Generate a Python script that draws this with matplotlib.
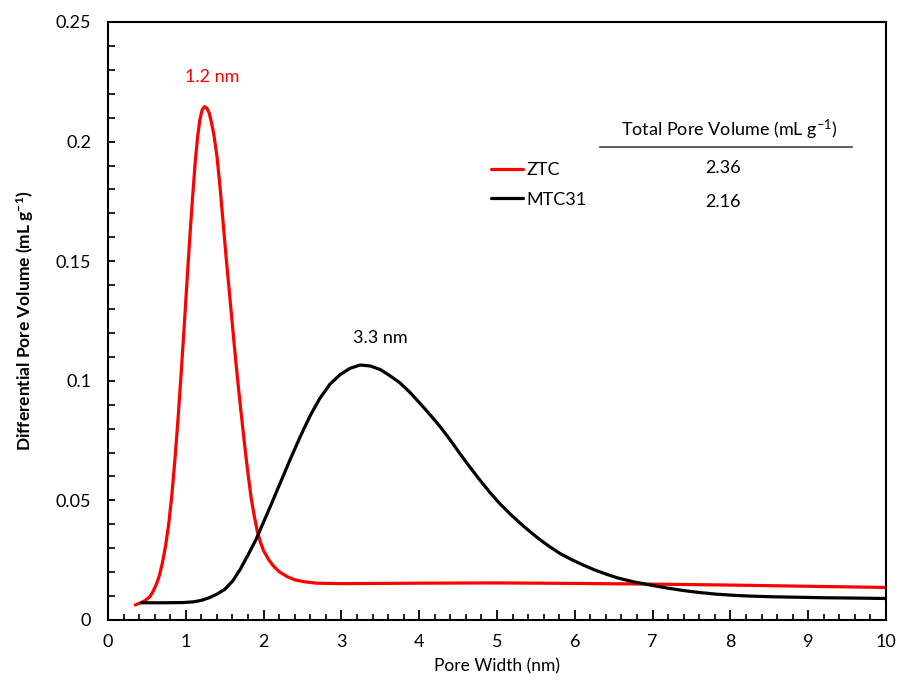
import matplotlib
matplotlib.use("Agg")
import matplotlib.pyplot as plt
from matplotlib.ticker import MultipleLocator
from matplotlib.lines import Line2D

plt.rcParams['font.family'] = ['Lato', 'DejaVu Sans']
plt.rcParams['mathtext.fontset'] = 'custom'
plt.rcParams['mathtext.rm'] = 'Lato'
plt.rcParams['mathtext.it'] = 'Lato:italic'
plt.rcParams['mathtext.bf'] = 'Lato:bold'

# ---- data ----
ztc_x = [0.35, 0.42, 0.48, 0.54, 0.58, 0.62, 0.66, 0.70, 0.74, 0.78, 0.82, 0.86,
         0.90, 0.94, 0.98, 1.02, 1.06, 1.09, 1.12, 1.15, 1.18, 1.21, 1.24, 1.27,
         1.30, 1.33, 1.36, 1.40, 1.44, 1.48, 1.52, 1.56, 1.60, 1.64, 1.68, 1.72,
         1.76, 1.80, 1.84, 1.88, 1.92, 1.96, 2.00, 2.06, 2.12, 2.20, 2.30, 2.40,
         2.52, 2.68, 3.0, 4.0, 5.0, 6.0, 7.0, 8.0, 9.0, 10.0]
ztc_y = [0.0063, 0.0072, 0.0082, 0.0098, 0.012, 0.0148, 0.0185, 0.024, 0.031,
         0.040, 0.052, 0.067, 0.084, 0.103, 0.123, 0.144, 0.164, 0.178, 0.191,
         0.2015, 0.209, 0.2133, 0.2146, 0.2140, 0.212, 0.208, 0.203, 0.194, 0.181,
         0.166, 0.151, 0.137, 0.123, 0.109, 0.096, 0.084, 0.072, 0.061, 0.051,
         0.0435, 0.037, 0.0325, 0.029, 0.0255, 0.0228, 0.0202, 0.0182, 0.0168,
         0.016, 0.0154, 0.0152, 0.0154, 0.0155, 0.0153, 0.015, 0.0146, 0.0141,
         0.0136]

mtc_x = [0.43, 0.7, 0.97, 1.10, 1.20, 1.30, 1.40, 1.50, 1.60, 1.70, 1.80, 1.90,
         2.00, 2.10, 2.21, 2.34, 2.47, 2.60, 2.72, 2.85, 2.98, 3.11, 3.24, 3.37,
         3.50, 3.62, 3.75, 3.88, 4.01, 4.14, 4.27, 4.40, 4.52, 4.65, 4.78, 4.91,
         5.04, 5.17, 5.30, 5.43, 5.55, 5.68, 5.81, 5.95, 6.10, 6.25, 6.40, 6.55,
         6.75, 6.97, 7.2, 7.4, 7.6, 7.82, 8.05, 8.25, 8.55, 8.89, 9.2, 9.5, 10.0]
mtc_y = [0.0072, 0.0072, 0.0073, 0.0076, 0.0082, 0.0093, 0.0108, 0.0128, 0.0162,
         0.0212, 0.0272, 0.0335, 0.041, 0.0485, 0.057, 0.067, 0.0766, 0.0855,
         0.0925, 0.0985, 0.1025, 0.1052, 0.1066, 0.1062, 0.1047, 0.1022, 0.0992,
         0.0952, 0.0906, 0.0858, 0.0808, 0.0752, 0.0697, 0.064, 0.0585, 0.0533,
         0.0485, 0.0443, 0.0404, 0.0368, 0.0336, 0.0306, 0.0278, 0.0254, 0.0231,
         0.0210, 0.0192, 0.0176, 0.0160, 0.0146, 0.0133, 0.0123, 0.0115, 0.0108,
         0.0103, 0.0100, 0.0097, 0.0095, 0.0093, 0.0092, 0.0090]

series_names = ["ZTC", "MTC31"]
total_pore_volume = ["2.36", "2.16"]
peak_labels = ["1.2 nm", "3.3 nm"]

# ---- figure ----
fig = plt.figure(figsize=(9.01, 6.89), dpi=100)
ax = fig.add_axes([108/901, 69/689, 778/901, 598/689])

l1, = ax.plot(ztc_x, ztc_y, color='#ff0000', lw=2.3, label=series_names[0],
              solid_capstyle='round', solid_joinstyle='round')
l2, = ax.plot(mtc_x, mtc_y, color='black', lw=2.3, label=series_names[1],
              solid_capstyle='round', solid_joinstyle='round')

ax.set_xlim(0, 10)
ax.set_ylim(0, 0.25)
ax.xaxis.set_major_locator(MultipleLocator(1))
ax.xaxis.set_minor_locator(MultipleLocator(0.2))
ax.yaxis.set_minor_locator(MultipleLocator(0.01))
ax.set_yticks([0, 0.05, 0.1, 0.15, 0.2, 0.25])
ax.set_yticklabels(["0", "0.05", "0.1", "0.15", "0.2", "0.25"])

for s in ax.spines.values():
    s.set_linewidth(1.5)
    s.set_color('black')

ax.tick_params(axis='x', which='major', direction='in', length=7, width=1.3,
               labelsize=13, pad=10, top=False)
ax.tick_params(axis='x', which='minor', direction='in', length=4, width=1.2, top=False)
ax.tick_params(axis='y', which='major', direction='in', length=5, width=1.3,
               labelsize=13, pad=12, right=False)
ax.tick_params(axis='y', which='minor', direction='in', length=5, width=1.2, right=False)

ax.set_xlabel("Pore Width (nm)", fontsize=12.5, labelpad=6)
ax.set_ylabel(r"Differential Pore Volume (mL g$^{\mathbf{-1}}$)", fontsize=12.5,
              labelpad=14, fontweight='bold')

ax.text(1.34, 0.227, peak_labels[0], color='#ff0000', fontsize=13, ha='center', va='center')
ax.text(3.5, 0.118, peak_labels[1], color='black', fontsize=13, ha='center', va='center')

leg = ax.legend(handles=[l1, l2], loc='center left',
                bbox_to_anchor=(491/901, (689-185)/689), bbox_transform=fig.transFigure,
                frameon=False, fontsize=13, handlelength=1.75, handletextpad=0.2,
                labelspacing=0.75, borderpad=0, borderaxespad=0)

fig.text(729/901, (689-130)/689, r"Total Pore Volume (mL g$^{\mathregular{-1}}$)",
         fontsize=13, ha='center', va='center')
fig.add_artist(Line2D([600/901, 852/901], [(689-147)/689, (689-147)/689],
                      transform=fig.transFigure, color='#404040', lw=1.2))
fig.text(723/901, (689-168)/689, total_pore_volume[0], fontsize=13, ha='center', va='center')
fig.text(723/901, (689-202)/689, total_pore_volume[1], fontsize=13, ha='center', va='center')

fig.savefig("out.png", dpi=100)
